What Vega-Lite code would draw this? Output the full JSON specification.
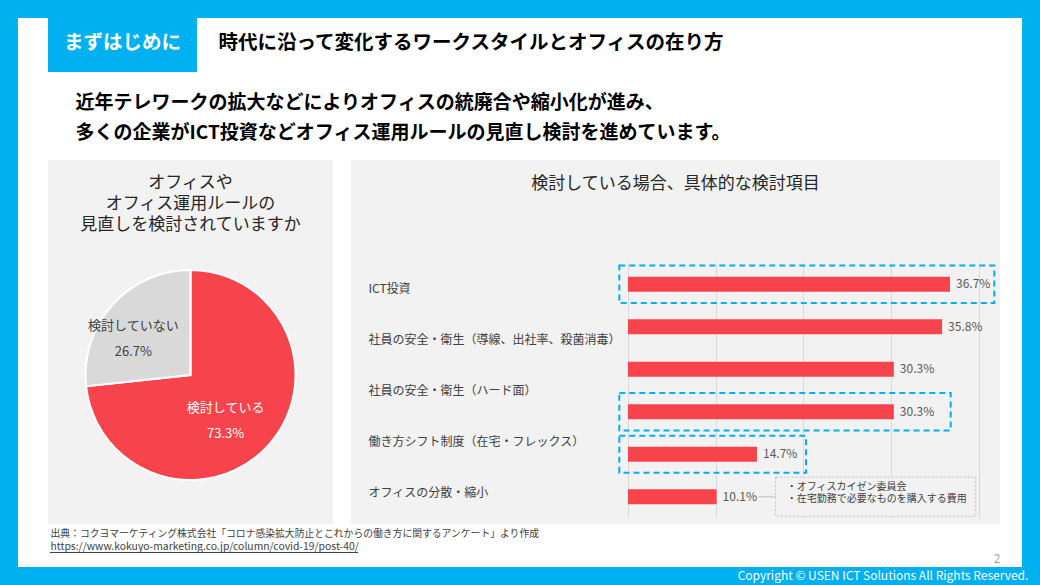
{
  "$schema": "https://vega.github.io/schema/vega-lite/v6.json",
  "background": "#ffffff",
  "padding": 0,
  "spacing": 0,
  "config": {
    "view": {"stroke": null},
    "font": "Noto Sans CJK JP",
    "text": {"font": "Noto Sans CJK JP"},
    "concat": {"spacing": 0}
  },
  "datasets": {
    "pie": [
      {"answer": "検討している", "share": 0.733},
      {"answer": "検討していない", "share": 0.267}
    ],
    "bars": [
      {"rank": 1, "share": 0.367},
      {"rank": 2, "share": 0.358},
      {"rank": 3, "share": 0.303},
      {"rank": 4, "share": 0.303},
      {"rank": 5, "share": 0.147},
      {"rank": 6, "share": 0.101}
    ],
    "items": [
      {"item": "ICT投資"},
      {"item": "社員の安全・衛生（導線、出社率、殺菌消毒）"},
      {"item": "社員の安全・衛生（ハード面）"},
      {"item": "働き方シフト制度（在宅・フレックス）"},
      {"item": "オフィスの分散・縮小"}
    ]
  },
  "vconcat": [
    {"width": 1040, "height": 18, "view": {"fill": "#00B0F0"}, "data": {"values": [{}]}, "mark": {"type": "point", "size": 0, "filled": true, "strokeWidth": 0, "opacity": 0}},
    {
      "spacing": 0,
      "hconcat": [
        {"width": 18, "height": 549, "view": {"fill": "#00B0F0"}, "data": {"values": [{}]}, "mark": {"type": "point", "size": 0, "filled": true, "strokeWidth": 0, "opacity": 0}},
        {
          "spacing": 0,
          "vconcat": [
            {
              "spacing": 0,
              "hconcat": [
                {"width": 30, "height": 54, "data": {"values": [{}]}, "mark": {"type": "point", "size": 0, "filled": true, "strokeWidth": 0, "opacity": 0}},
                {"width": 149, "height": 54, "view": {"fill": "#00B0F0"}, "data": {"values": [{}]},
                 "mark": {"type": "text", "text": "まずはじめに", "color": "#ffffff", "fontSize": 19.5, "fontWeight": "bold", "dy": -2}},
                {"width": 21, "height": 54, "data": {"values": [{}]}, "mark": {"type": "point", "size": 0, "filled": true, "strokeWidth": 0, "opacity": 0}},
                {"width": 1, "height": 54, "data": {"values": [{}]},
                 "mark": {"type": "text", "text": "時代に沿って変化するワークスタイルとオフィスの在り方", "align": "left", "color": "#000000", "fontSize": 19.5, "fontWeight": "bold", "dy": -2}}
              ]
            },
            {"width": 1, "height": 16, "data": {"values": [{}]}, "mark": {"type": "point", "size": 0, "filled": true, "strokeWidth": 0, "opacity": 0}},
            {
              "spacing": 0,
              "hconcat": [
                {"width": 57, "height": 30, "data": {"values": [{}]}, "mark": {"type": "point", "size": 0, "filled": true, "strokeWidth": 0, "opacity": 0}},
                {"width": 1, "height": 30, "data": {"values": [{}]},
                 "mark": {"type": "text", "text": "近年テレワークの拡大などによりオフィスの統廃合や縮小化が進み、", "align": "left", "color": "#000000", "fontSize": 19, "fontWeight": "bold"}}
              ]
            },
            {
              "spacing": 0,
              "hconcat": [
                {"width": 57, "height": 30, "data": {"values": [{}]}, "mark": {"type": "point", "size": 0, "filled": true, "strokeWidth": 0, "opacity": 0}},
                {"width": 1, "height": 30, "data": {"values": [{}]},
                 "mark": {"type": "text", "text": "多くの企業がICT投資などオフィス運用ルールの見直し検討を進めています。", "align": "left", "color": "#000000", "fontSize": 19, "fontWeight": "bold"}}
              ]
            },
            {"width": 1, "height": 12, "data": {"values": [{}]}, "mark": {"type": "point", "size": 0, "filled": true, "strokeWidth": 0, "opacity": 0}},
            {
              "spacing": 0,
              "hconcat": [
                {"width": 30, "height": 364, "data": {"values": [{}]}, "mark": {"type": "point", "size": 0, "filled": true, "strokeWidth": 0, "opacity": 0}},
                {
                  "spacing": 0,
                  "vconcat": [
                    {"width": 285, "height": 12, "view": {"fill": "#F2F2F2"}, "data": {"values": [{}]}, "mark": {"type": "point", "size": 0, "filled": true, "strokeWidth": 0, "opacity": 0}},
                    {"width": 285, "height": 21, "view": {"fill": "#F2F2F2"}, "data": {"values": [{}]},
                     "mark": {"type": "text", "text": "オフィスや", "color": "#262626", "fontSize": 17}},
                    {"width": 285, "height": 21, "view": {"fill": "#F2F2F2"}, "data": {"values": [{}]},
                     "mark": {"type": "text", "text": "オフィス運用ルールの", "color": "#262626", "fontSize": 17}},
                    {"width": 285, "height": 22, "view": {"fill": "#F2F2F2"}, "data": {"values": [{}]},
                     "mark": {"type": "text", "text": "見直しを検討されていますか", "color": "#262626", "fontSize": 17}},
                    {
                      "width": 285,
                      "height": 278,
                      "view": {"fill": "#F2F2F2"},
                      "data": {"name": "pie"},
                      "encoding": {
                        "theta": {"field": "share", "type": "quantitative", "stack": true},
                        "order": {"field": "share", "type": "quantitative", "sort": "descending"}
                      },
                      "layer": [
                        {
                          "mark": {"type": "arc", "outerRadius": 105, "stroke": "#ffffff", "strokeWidth": 2},
                          "encoding": {
                            "color": {"field": "answer", "type": "nominal", "sort": null, "legend": null,
                                      "scale": {"domain": ["検討している", "検討していない"], "range": ["#F7434B", "#D9D9D9"]}}
                          }
                        },
                        {
                          "mark": {"type": "text", "radius": 62, "dx": -11, "dy": -8, "fontSize": 13},
                          "encoding": {
                            "text": {"field": "answer", "type": "nominal"},
                            "color": {"field": "answer", "type": "nominal", "sort": null, "legend": null,
                                      "scale": {"domain": ["検討している", "検討していない"], "range": ["#ffffff", "#404040"]}}
                          }
                        },
                        {
                          "mark": {"type": "text", "radius": 62, "dx": -11, "dy": 18, "fontSize": 13},
                          "encoding": {
                            "text": {"field": "share", "type": "quantitative", "format": ".1%"},
                            "color": {"field": "answer", "type": "nominal", "sort": null, "legend": null,
                                      "scale": {"domain": ["検討している", "検討していない"], "range": ["#ffffff", "#404040"]}}
                          }
                        }
                      ],
                      "resolve": {"scale": {"color": "independent"}}
                    },
                    {"width": 285, "height": 10, "view": {"fill": "#F2F2F2"}, "data": {"values": [{}]}, "mark": {"type": "point", "size": 0, "filled": true, "strokeWidth": 0, "opacity": 0}}
                  ]
                },
                {"width": 18, "height": 364, "data": {"values": [{}]}, "mark": {"type": "point", "size": 0, "filled": true, "strokeWidth": 0, "opacity": 0}},
                {
                  "spacing": 0,
                  "vconcat": [
                    {"width": 649, "height": 48, "view": {"fill": "#F2F2F2"}, "data": {"values": [{}]},
                     "mark": {"type": "text", "text": "検討している場合、具体的な検討項目", "color": "#262626", "fontSize": 17}},
                    {"width": 649, "height": 55, "view": {"fill": "#F2F2F2"}, "data": {"values": [{}]}, "mark": {"type": "point", "size": 0, "filled": true, "strokeWidth": 0, "opacity": 0}},
                    {
                      "spacing": 0,
                      "bounds": "flush",
                      "hconcat": [
                        {"width": 277, "height": 255, "view": {"fill": "#F2F2F2"}, "data": {"values": [{}]}, "mark": {"type": "point", "size": 0, "filled": true, "strokeWidth": 0, "opacity": 0}},
                        {
                          "width": 372,
                          "height": 255,
                          "view": {"fill": "#F2F2F2"},
                          "layer": [
                            {
                              "data": {"name": "items"},
                              "mark": {"type": "tick", "opacity": 0},
                              "encoding": {
                                "y": {
                                  "field": "item", "type": "nominal", "sort": null,
                                  "scale": {"type": "band", "paddingInner": 0, "paddingOuter": 0},
                                  "axis": {"orient": "left", "title": null, "domain": false, "ticks": false, "grid": false,
                                           "labelAlign": "left", "labelBaseline": "middle", "labelPadding": 260, "labelLimit": 330,
                                           "labelFontSize": 12, "labelColor": "#404040", "labelFont": "Noto Sans CJK JP"}
                                }
                              }
                            },
                            {
                              "layer": [
                                {
                                  "data": {"name": "bars"},
                                  "mark": {"type": "bar", "color": "#F7434B"},
                                  "encoding": {
                                    "x": {"field": "share", "type": "quantitative", "title": null,
                                          "scale": {"domain": [0, 0.424], "nice": false, "zero": true},
                                          "axis": {"values": [0, 0.1, 0.2, 0.3, 0.4], "grid": true, "gridColor": "#D9D9D9", "gridWidth": 1,
                                                   "labels": false, "ticks": false, "domain": false, "title": null}},
                                    "y": {"field": "rank", "type": "ordinal", "title": null,
                                          "scale": {"paddingInner": 0.647, "paddingOuter": 0.3235}, "axis": null}
                                  }
                                },
                                {
                                  "data": {"name": "bars"},
                                  "mark": {"type": "text", "align": "left", "dx": 6, "fontSize": 12, "color": "#595959"},
                                  "encoding": {
                                    "x": {"field": "share", "type": "quantitative", "title": null},
                                    "y": {"field": "rank", "type": "ordinal", "title": null},
                                    "text": {"field": "share", "type": "quantitative", "format": ".1%"}
                                  }
                                },
                                {
                                  "data": {"values": [{}]},
                                  "mark": {"type": "bar", "filled": false, "stroke": "#00B0F0", "strokeWidth": 2, "strokeDash": [6, 4], "height": {"band": 2.5}},
                                  "encoding": {
                                    "x": {"datum": -0.0099, "type": "quantitative", "title": null},
                                    "x2": {"datum": 0.4175},
                                    "y": {"datum": 1, "type": "ordinal", "title": null}
                                  }
                                },
                                {
                                  "data": {"values": [{}]},
                                  "mark": {"type": "bar", "filled": false, "stroke": "#00B0F0", "strokeWidth": 2, "strokeDash": [6, 4], "height": {"band": 2.5}},
                                  "encoding": {
                                    "x": {"datum": -0.0099, "type": "quantitative", "title": null},
                                    "x2": {"datum": 0.3678},
                                    "y": {"datum": 4, "type": "ordinal", "title": null}
                                  }
                                },
                                {
                                  "data": {"values": [{}]},
                                  "mark": {"type": "bar", "filled": false, "stroke": "#00B0F0", "strokeWidth": 2, "strokeDash": [6, 4], "height": {"band": 2.45}},
                                  "encoding": {
                                    "x": {"datum": -0.0099, "type": "quantitative", "title": null},
                                    "x2": {"datum": 0.2029},
                                    "y": {"datum": 5, "type": "ordinal", "title": null}
                                  }
                                },
                                {
                                  "data": {"values": [{}]},
                                  "mark": {"type": "rule", "color": "#BFBFBF", "strokeWidth": 1},
                                  "encoding": {
                                    "x": {"datum": 0.149, "type": "quantitative", "title": null},
                                    "x2": {"datum": 0.1683},
                                    "y": {"datum": 6, "type": "ordinal", "title": null}
                                  }
                                },
                                {
                                  "data": {"values": [{}]},
                                  "mark": {"type": "bar", "fill": "#F2F2F2", "stroke": "#BFBFBF", "strokeWidth": 1, "strokeDash": [2, 2], "height": {"band": 2.6}},
                                  "encoding": {
                                    "x": {"datum": 0.1683, "type": "quantitative", "title": null},
                                    "x2": {"datum": 0.3963},
                                    "y": {"datum": 6, "type": "ordinal", "title": null}
                                  }
                                },
                                {
                                  "data": {"values": [{}]},
                                  "mark": {"type": "text", "align": "left", "fontSize": 10, "lineHeight": 12.5, "dy": -10, "color": "#404040",
                                           "text": ["・オフィスカイゼン委員会", "・在宅勤務で必要なものを購入する費用"]},
                                  "encoding": {
                                    "x": {"datum": 0.1809, "type": "quantitative", "title": null},
                                    "y": {"datum": 6, "type": "ordinal", "title": null}
                                  }
                                }
                              ]
                            }
                          ],
                          "resolve": {"scale": {"y": "independent"}, "axis": {"y": "independent"}}
                        }
                      ]
                    },
                    {"width": 649, "height": 6, "view": {"fill": "#F2F2F2"}, "data": {"values": [{}]}, "mark": {"type": "point", "size": 0, "filled": true, "strokeWidth": 0, "opacity": 0}}
                  ]
                },
                {"width": 22, "height": 364, "data": {"values": [{}]}, "mark": {"type": "point", "size": 0, "filled": true, "strokeWidth": 0, "opacity": 0}}
              ]
            },
            {
              "spacing": 0,
              "vconcat": [
                {
                  "spacing": 0,
                  "hconcat": [
                    {"width": 32, "height": 15, "data": {"values": [{}]}, "mark": {"type": "point", "size": 0, "filled": true, "strokeWidth": 0, "opacity": 0}},
                    {"width": 1, "height": 15, "data": {"values": [{}]},
                     "mark": {"type": "text", "text": "出典：コクヨマーケティング株式会社「コロナ感染拡大防止とこれからの働き方に関するアンケート」より作成", "align": "left", "fontSize": 9.8, "color": "#404040", "dy": 2}}
                  ]
                },
                {
                  "spacing": 0,
                  "hconcat": [
                    {"width": 32, "height": 13, "data": {"values": [{}]}, "mark": {"type": "point", "size": 0, "filled": true, "strokeWidth": 0, "opacity": 0}},
                    {"width": 1, "height": 13, "data": {"values": [{}]},
                     "mark": {"type": "text", "text": "https://www.kokuyo-marketing.co.jp/column/covid-19/post-40/", "align": "left", "fontSize": 10.4, "color": "#404040", "dy": 1}}
                  ]
                },
                {
                  "spacing": 0,
                  "hconcat": [
                    {"width": 32, "height": 1, "data": {"values": [{}]}, "mark": {"type": "point", "size": 0, "filled": true, "strokeWidth": 0, "opacity": 0}},
                    {"width": 308, "height": 1, "view": {"fill": "#404040"}, "data": {"values": [{}]}, "mark": {"type": "point", "size": 0, "filled": true, "strokeWidth": 0, "opacity": 0}}
                  ]
                },
                {
                  "spacing": 0,
                  "hconcat": [
                    {"width": 975, "height": 14, "data": {"values": [{}]}, "mark": {"type": "point", "size": 0, "filled": true, "strokeWidth": 0, "opacity": 0}},
                    {"width": 8, "height": 14, "data": {"values": [{}]},
                     "mark": {"type": "text", "text": "2", "fontSize": 12, "color": "#A6A6A6", "dy": -1}}
                  ]
                }
              ]
            }
          ]
        },
        {"width": 18, "height": 549, "view": {"fill": "#00B0F0"}, "data": {"values": [{}]}, "mark": {"type": "point", "size": 0, "filled": true, "strokeWidth": 0, "opacity": 0}}
      ]
    },
    {
      "spacing": 0,
      "hconcat": [
        {"width": 726, "height": 18, "view": {"fill": "#00B0F0"}, "data": {"values": [{}]}, "mark": {"type": "point", "size": 0, "filled": true, "strokeWidth": 0, "opacity": 0}},
        {"width": 314, "height": 18, "view": {"fill": "#00B0F0"}, "data": {"values": [{}]},
         "mark": {"type": "text", "text": "Copyright © USEN ICT Solutions All Rights Reserved.", "color": "#ffffff", "fontSize": 12}}
      ]
    }
  ]
}
